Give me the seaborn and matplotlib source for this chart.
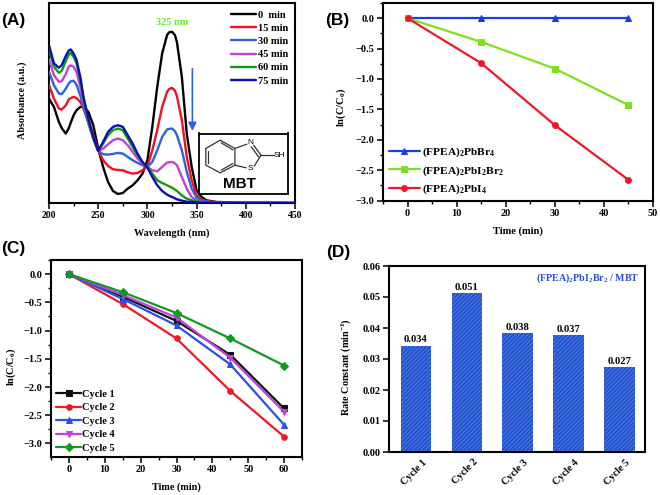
import numpy as np
import pandas as pd
import matplotlib
matplotlib.use("Agg")
import matplotlib.pyplot as plt
import seaborn as sns
from matplotlib.ticker import MultipleLocator
from matplotlib.transforms import ScaledTranslation

sns.set_theme(style="ticks")
plt.rcParams["font.family"] = ["Liberation Serif", "DejaVu Serif"]
plt.rcParams["font.weight"] = "bold"
plt.rcParams["axes.labelweight"] = "bold"
plt.rcParams["text.color"] = "black"
plt.rcParams["axes.labelcolor"] = "black"
plt.rcParams["xtick.labelcolor"] = "black"
plt.rcParams["ytick.labelcolor"] = "black"
plt.rcParams["mathtext.fontset"] = "custom"
plt.rcParams["mathtext.bf"] = "Liberation Serif:bold"
plt.rcParams["mathtext.rm"] = "Liberation Serif:bold"
plt.rcParams["mathtext.it"] = "Liberation Serif:bold"
plt.rcParams["hatch.linewidth"] = 0.45

# panel A, absorbance (a.u.)
wavelength = [200, 205, 210, 213, 217, 220, 222, 225, 228, 232, 235, 240, 245, 250, 255, 260, 265, 270, 275,
              280, 285, 290, 295, 300, 305, 310, 315, 320, 322, 325, 328, 330, 335, 340, 345, 350, 355, 360, 370, 400, 450]
abs_0 = [3.13, 2.88, 2.43, 2.24, 2.08, 2.23, 2.40, 2.63, 2.78, 2.88, 2.88, 2.73, 2.33, 1.63, 1.08, 0.63, 0.36, 0.27, 0.30,
         0.43, 0.53, 0.68, 0.88, 1.28, 2.28, 3.48, 4.48, 5.03, 5.11, 5.13, 5.03, 4.82, 3.78, 2.08, 1.08, 0.38, 0.18, 0.08, 0.03, 0.01, 0.0]
abs_15 = [3.53, 3.13, 2.83, 2.80, 2.92, 3.10, 3.14, 3.18, 3.14, 3.02, 2.83, 2.43, 2.03, 1.58, 1.28, 1.11, 1.01, 0.99, 0.98,
          0.92, 0.88, 0.90, 0.98, 1.10, 1.58, 2.18, 2.88, 3.33, 3.41, 3.45, 3.36, 3.20, 2.48, 1.38, 0.68, 0.23, 0.11, 0.06, 0.02, 0.01, 0.0]
abs_30 = [3.93, 3.53, 3.28, 3.26, 3.42, 3.58, 3.64, 3.66, 3.54, 3.20, 2.88, 2.38, 1.93, 1.56, 1.46, 1.45, 1.47, 1.50, 1.48,
          1.38, 1.28, 1.20, 1.13, 1.08, 1.23, 1.58, 1.98, 2.20, 2.22, 2.23, 2.15, 2.03, 1.58, 0.93, 0.43, 0.16, 0.08, 0.04, 0.02, 0.01, 0.0]
abs_45 = [4.30, 3.83, 3.63, 3.65, 3.86, 4.08, 4.12, 4.08, 3.93, 3.45, 3.03, 2.43, 1.93, 1.56, 1.63, 1.76, 1.88, 1.93, 1.88,
          1.73, 1.53, 1.33, 1.18, 1.08, 0.98, 0.95, 1.08, 1.21, 1.22, 1.23, 1.19, 1.13, 0.78, 0.43, 0.18, 0.08, 0.04, 0.02, 0.01, 0.01, 0.0]
abs_60 = [4.60, 4.08, 3.90, 3.96, 4.25, 4.43, 4.50, 4.38, 4.18, 3.65, 3.13, 2.48, 1.93, 1.56, 1.78, 2.03, 2.18, 2.23, 2.18,
          1.93, 1.68, 1.43, 1.21, 1.08, 0.88, 0.68, 0.60, 0.53, 0.50, 0.46, 0.40, 0.36, 0.23, 0.13, 0.08, 0.05, 0.03, 0.02, 0.01, 0.01, 0.0]
abs_75 = [4.73, 4.18, 4.05, 4.13, 4.40, 4.56, 4.60, 4.48, 4.28, 3.75, 3.18, 2.53, 1.98, 1.56, 1.83, 2.13, 2.28, 2.33, 2.28,
          2.03, 1.78, 1.48, 1.23, 1.06, 0.78, 0.53, 0.36, 0.25, 0.22, 0.18, 0.14, 0.11, 0.07, 0.04, 0.03, 0.02, 0.01, 0.01, 0.01, 0.0, 0.0]
spectra_labels = ["0  min", "15 min", "30 min", "45 min", "60 min", "75 min"]
spectra_colors = ["#000000", "#f01020", "#2a62e0", "#c040d8", "#109a10", "#0a10b0"]

# panel B
time_b = [0, 15, 30, 45]
pbbr4 = [0, 0, 0, 0]
pbi2br2 = [0, -0.39, -0.83, -1.43]
pbi4 = [0, -0.74, -1.76, -2.66]

# panel C
time_c = [0, 15, 30, 45, 60]
cycle_1 = [0, -0.40, -0.83, -1.43, -2.38]
cycle_2 = [0, -0.53, -1.14, -2.07, -2.88]
cycle_3 = [0, -0.44, -0.91, -1.60, -2.67]
cycle_4 = [0, -0.37, -0.77, -1.48, -2.44]
cycle_5 = [0, -0.32, -0.69, -1.14, -1.62]

# panel D
cycles = ["Cycle 1", "Cycle 2", "Cycle 3", "Cycle 4", "Cycle 5"]
rates = [0.0343, 0.0512, 0.0383, 0.0376, 0.0273]
rate_labels = ["0.034", "0.051", "0.038", "0.037", "0.027"]

W, H = 660, 495
fig = plt.figure(figsize=(W / 100, H / 100), dpi=100, facecolor="white")


def box(x0, y0, x1, y1):
    return fig.add_axes([x0 / W, 1 - y1 / H, (x1 - x0) / W, (y1 - y0) / H])


def style(ax):
    for s in ax.spines.values():
        s.set_linewidth(1.5)
        s.set_color("black")
    ax.tick_params(which="major", length=4, width=1.1, labelsize=7.5, pad=2, color="black")
    ax.tick_params(which="minor", length=2.5, width=1.0, color="black")


# (A)
ax_a = box(49, 3, 295, 203)
style(ax_a)
all_abs = [abs_0, abs_15, abs_30, abs_45, abs_60, abs_75]
for vals, lab, col in zip(all_abs, spectra_labels, spectra_colors):
    sns.lineplot(x=wavelength, y=vals, color=col, lw=1.7, label=lab, ax=ax_a, errorbar=None, zorder=3)
ax_a.set_xlim(200, 450)
ax_a.set_ylim(0, 5.99)
ax_a.set_yticks([])
ax_a.xaxis.set_major_locator(MultipleLocator(50))
ax_a.xaxis.set_minor_locator(MultipleLocator(25))
ax_a.tick_params(axis="x", labelsize=7)
ax_a.set_xlabel("Wavelength (nm)", fontsize=7.3)
ax_a.xaxis.set_label_coords(0.5, -0.125)
ax_a.set_ylabel("Absorbance (a.u.)", fontsize=7.3)
ax_a.yaxis.set_label_coords(-0.09, 0.515)
ax_a.legend(loc="upper right", bbox_to_anchor=(0.995, 0.99), frameon=False, fontsize=7.5, labelspacing=0.38,
            handlelength=2.4, handletextpad=0.2, borderpad=0.2, borderaxespad=0.3)
ax_a.text(325, 5.40, "325 nm", color="#66ee22", fontsize=7.5, ha="center", va="center")
ax_a.annotate("", xy=(345.7, 2.16), xytext=(345.7, 4.02),
              arrowprops=dict(arrowstyle="-|>", color="#2a62e0", lw=1.2, shrinkA=0, shrinkB=0))

# MBT inset with the molecule drawn in its own little axes
ins = box(199.5, 133.5, 288, 193.5)
ins.set_xlim(598, 863)
ins.set_ylim(580, 400)
ins.set_xticks([])
ins.set_yticks([])
for s in ins.spines.values():
    s.set_linewidth(1.3)
    s.set_color("black")
ring_x = [617, 617, 660, 704, 704, 660, 617]
ring_y = [445, 495, 518, 495, 445, 420, 445]
ins.plot(ring_x, ring_y, color="#333333", lw=0.9)
ins.plot([624, 624], [452, 488], color="#333333", lw=0.9)
ins.plot([663, 698], [510, 490], color="#333333", lw=0.9)
ins.plot([663, 698], [428, 449], color="#333333", lw=0.9)
ins.plot([704, 740], [445, 432], color="#333333", lw=0.9)
ins.plot([704, 738], [495, 503], color="#333333", lw=0.9)
ins.plot([760, 782], [435, 465], color="#333333", lw=0.9)
ins.plot([753, 775], [440, 470], color="#333333", lw=0.9)
ins.plot([782, 762], [465, 498], color="#333333", lw=0.9)
ins.plot([782, 820], [465, 465], color="#333333", lw=0.9)
sans = ["Liberation Sans", "DejaVu Sans"]
ins.text(750, 428, "N", family=sans, fontsize=6, ha="center", va="center", weight="normal")
ins.text(751, 506, "S", family=sans, fontsize=6, ha="center", va="center", weight="normal")
ins.text(838, 466, "SH", family=sans, fontsize=6, ha="center", va="center", weight="normal")
ins.text(717, 550, "MBT", family=sans, fontsize=11, ha="center", va="center", weight="bold")

# (B)
ax_b = box(383, 3, 653, 200.5)
style(ax_b)
sns.lineplot(x=time_b, y=pbbr4, color="#1840e0", marker="^", ms=4.5, mec="#1840e0", lw=1.6, ax=ax_b,
             label=r"(FPEA)$_{\mathbf{2}}$PbBr$_{\mathbf{4}}$", errorbar=None)
sns.lineplot(x=time_b, y=pbi2br2, color="#7de020", marker="s", ms=3.8, mec="#7de020", lw=1.6, ax=ax_b,
             label=r"(FPEA)$_{\mathbf{2}}$PbI$_{\mathbf{2}}$Br$_{\mathbf{2}}$", errorbar=None)
sns.lineplot(x=time_b, y=pbi4, color="#f01828", marker="o", ms=4.2, mec="#f01828", lw=1.6, ax=ax_b,
             label=r"(FPEA)$_{\mathbf{2}}$PbI$_{\mathbf{4}}$", errorbar=None)
ax_b.set_xlim(-5, 50)
ax_b.set_ylim(-3, 0.25)
ax_b.xaxis.set_major_locator(MultipleLocator(10))
ax_b.xaxis.set_minor_locator(MultipleLocator(5))
ax_b.yaxis.set_major_locator(MultipleLocator(0.5))
ax_b.yaxis.set_minor_locator(MultipleLocator(0.25))
ax_b.set_xlabel("Time (min)", fontsize=7.6)
ax_b.xaxis.set_label_coords(0.5, -0.13)
ax_b.set_ylabel(r"ln(C/C$_{\mathbf{0}}$)", fontsize=7.6)
ax_b.yaxis.set_label_coords(-0.13, 0.473)
ax_b.legend(loc="lower left", bbox_to_anchor=(0.005, 0.0), frameon=False, fontsize=8.2, labelspacing=0.42,
            handlelength=2.7, handletextpad=0.2, borderpad=0.2, borderaxespad=0.2)

# (C)
ax_c = box(51, 260, 302, 457)
style(ax_c)
c_series = [cycle_1, cycle_2, cycle_3, cycle_4, cycle_5]
c_colors = ["#101010", "#f01828", "#2a50e8", "#c040e0", "#109a20"]
c_marks = ["s", "o", "^", "v", "D"]
for vals, lab, col, mk in zip(c_series, cycles, c_colors, c_marks):
    sns.lineplot(x=time_c, y=vals, color=col, marker=mk, ms=4, mec=col, lw=1.6, label=lab, ax=ax_c, errorbar=None)
ax_c.set_xlim(-5, 65)
ax_c.set_ylim(-3.24, 0.25)
ax_c.xaxis.set_major_locator(MultipleLocator(10))
ax_c.xaxis.set_minor_locator(MultipleLocator(5))
ax_c.yaxis.set_major_locator(MultipleLocator(0.5))
ax_c.yaxis.set_minor_locator(MultipleLocator(0.25))
ax_c.set_xlabel("Time (min)", fontsize=7.3)
ax_c.xaxis.set_label_coords(0.5, -0.13)
ax_c.set_ylabel(r"ln(C/C$_{\mathbf{0}}$)", fontsize=7.3)
ax_c.yaxis.set_label_coords(-0.131, 0.457)
ax_c.legend(loc="lower left", bbox_to_anchor=(0.004, 0.0), frameon=False, fontsize=7.5, labelspacing=0.4,
            handlelength=2.4, handletextpad=0.1, borderpad=0.2, borderaxespad=0.2)

# (D)
ax_d = box(389, 266, 645, 452)
style(ax_d)
df_d = pd.DataFrame({"cycle": cycles, "rate": rates})
sns.barplot(data=df_d, x="cycle", y="rate", color="#2452cc", width=0.6, saturation=1, ax=ax_d)
for bar, lab in zip(ax_d.patches, rate_labels):
    bar.set_hatch("////////")
    bar.set_edgecolor("#5f8cec")
    bar.set_linewidth(0)
    ax_d.text(bar.get_x() + bar.get_width() / 2, bar.get_height() + 0.0005, lab, ha="center", va="bottom", fontsize=7.6)
ax_d.set_xlim(-0.53, 4.5)
ax_d.set_ylim(0, 0.06)
ax_d.yaxis.set_major_locator(MultipleLocator(0.01))
ax_d.yaxis.set_major_formatter("{x:.2f}")
ax_d.tick_params(axis="x", length=0, pad=4, labelsize=7.3)
label_shift = ScaledTranslation(6 / 100, 0, fig.dpi_scale_trans)
for t in ax_d.get_xticklabels():
    t.set_rotation(45)
    t.set_ha("right")
    t.set_rotation_mode("anchor")
    t.set_transform(t.get_transform() + label_shift)
ax_d.set_xlabel("")
ax_d.set_ylabel(r"Rate Constant (min$^{\mathbf{-1}}$)", fontsize=7.3)
ax_d.yaxis.set_label_coords(-0.14, 0.457)
ax_d.text(0.976, 0.935, r"(FPEA)$_{\mathbf{2}}$PbI$_{\mathbf{2}}$Br$_{\mathbf{2}}$ / MBT", transform=ax_d.transAxes,
          color="#2a50d8", fontsize=7.2, ha="right", va="center")

# panel letters
for lab, px, py in [("(A)", 13, 20), ("(B)", 337, 20), ("(C)", 13, 249), ("(D)", 338, 252)]:
    fig.text(px / W, 1 - py / H, lab, family=sans, fontsize=12.5, weight="bold", ha="center", va="center")

fig.savefig("out.png", dpi=100)
